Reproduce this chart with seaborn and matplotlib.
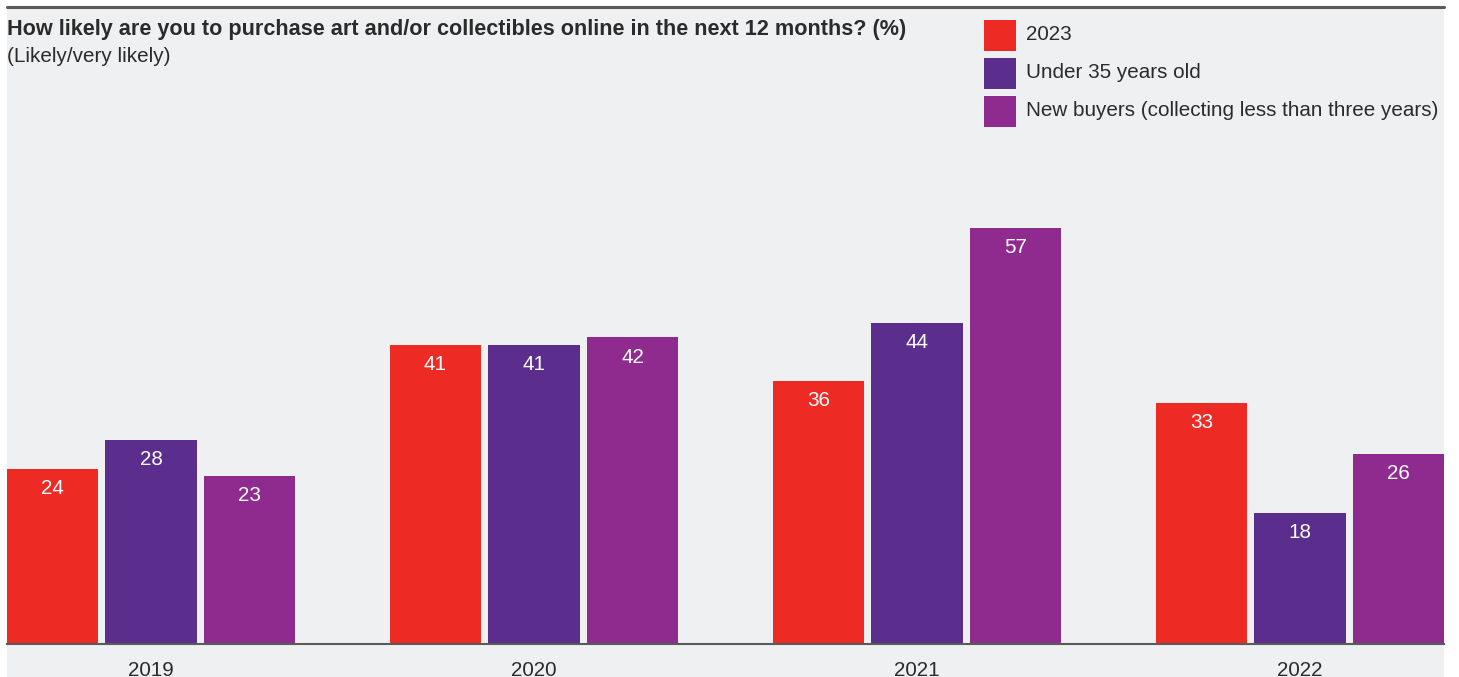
import matplotlib
matplotlib.use("Agg")
import matplotlib.pyplot as plt
from matplotlib.patches import Rectangle
from matplotlib.lines import Line2D
import pandas as pd
import seaborn as sns

# Survey data
years = ["2019", "2020", "2021", "2022"]
groups = ["2023", "Under 35 years old", "New buyers (collecting less than three years)"]
all_buyers = [24, 41, 36, 33]
under_35 = [28, 41, 44, 18]
new_buyers = [23, 42, 57, 26]
colors = ["#ee2a24", "#5b2e8e", "#8f2a8f"]

title = "How likely are you to purchase art and/or collectibles online in the next 12 months? (%)"
subtitle = "(Likely/very likely)"

df = pd.DataFrame({
    "year": years * 3,
    "group": [groups[0]] * 4 + [groups[1]] * 4 + [groups[2]] * 4,
    "value": all_buyers + under_35 + new_buyers,
})

sns.set_theme(style="white")
plt.rcParams["font.family"] = ["Liberation Sans", "DejaVu Sans"]

W, H = 1459, 677
fig = plt.figure(figsize=(W / 100, H / 100), dpi=100)
fig.patch.set_facecolor("white")

def fx(px):
    return px / W

def fy(py):
    return 1 - py / H

panel_bg = "#eff0f2"
text_col = "#2b2b2b"
fs = 14.9

# background panel and top rule
fig.patches.append(Rectangle((fx(7), 0), fx(1444) - fx(7), fy(7), transform=fig.transFigure,
                             facecolor=panel_bg, edgecolor="none", zorder=-10))
fig.lines.append(Line2D([fx(7), fx(1444)], [fy(7), fy(7)], transform=fig.transFigure,
                        color="#5a5a5a", linewidth=2.2, zorder=1))

ax_bottom, ax_top = 644, 150
ax = fig.add_axes([fx(7), fy(ax_bottom), fx(1444) - fx(7), fy(ax_top) - fy(ax_bottom)])
ax.set_facecolor("none")

sns.barplot(data=df, x="year", y="value", hue="group", hue_order=groups, order=years,
            palette=colors, width=0.772, gap=0.076, saturation=1, legend=False,
            linewidth=0, edgecolor="none", ax=ax)

px_per_unit = 416 / 57
ax.set_ylim(0, (ax_bottom - ax_top) / px_per_unit)
ax.set_xlim(-0.376, 3.376)

for container in ax.containers:
    ax.bar_label(container, fmt="%d", label_type="edge", padding=-21, color="white", fontsize=fs)

ax.set_xlabel("")
ax.set_ylabel("")
ax.set_yticks([])
ax.tick_params(axis="x", length=0, pad=12, labelsize=fs, labelcolor=text_col)
for side in ["left", "right", "top"]:
    ax.spines[side].set_visible(False)
ax.spines["bottom"].set_color("#5a5a5a")
ax.spines["bottom"].set_linewidth(1.5)
ax.spines["bottom"].set_zorder(3)

# titles
fig.text(fx(7), fy(29), title, fontsize=15.6, fontweight="bold", color=text_col, va="center", ha="left")
fig.text(fx(7), fy(56), subtitle, fontsize=fs, color=text_col, va="center", ha="left")

# legend
for i, (lab, c) in enumerate(zip(groups, colors)):
    top = 20 + i * 38
    fig.patches.append(Rectangle((fx(984), fy(top + 31)), fx(1016) - fx(984), fy(top) - fy(top + 31),
                                 transform=fig.transFigure, facecolor=c, edgecolor="none"))
    fig.text(fx(1026), fy(top + 15), lab, fontsize=fs, color=text_col, va="center", ha="left")

fig.savefig("out.png", dpi=100, facecolor="white")
